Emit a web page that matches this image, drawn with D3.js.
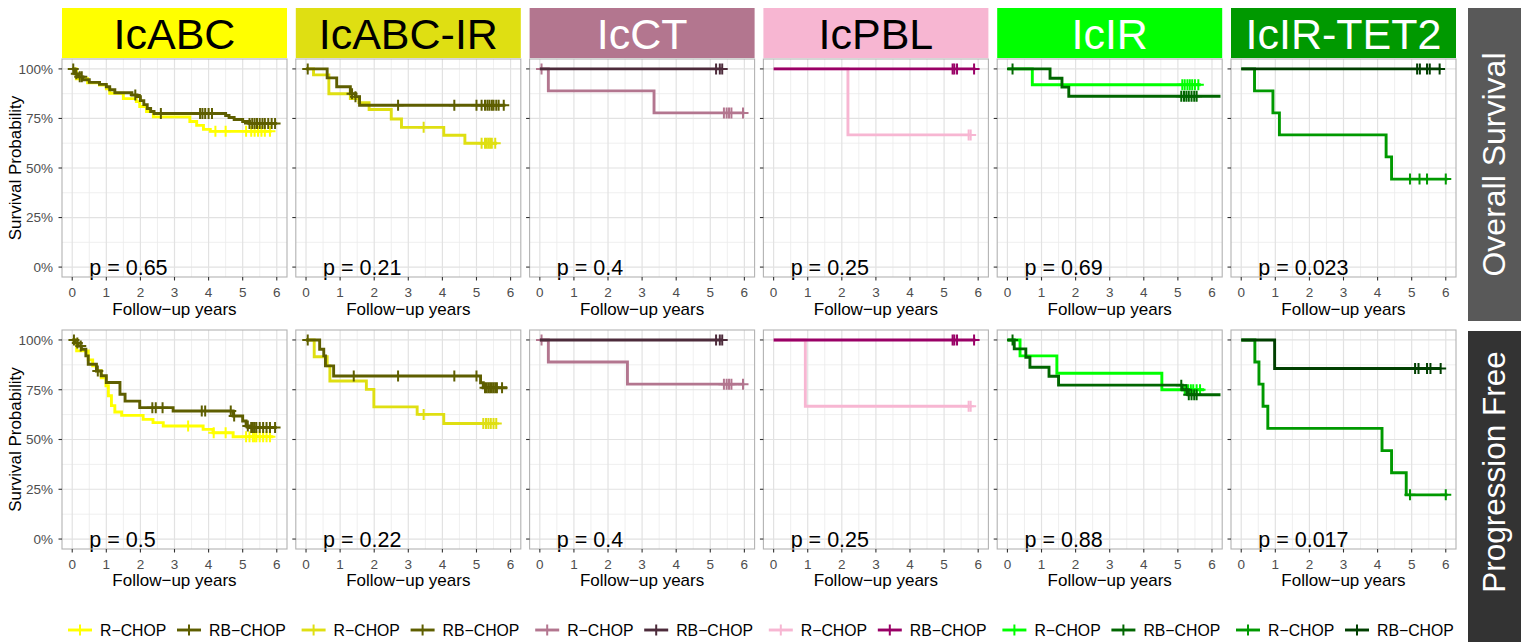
<!DOCTYPE html>
<html><head><meta charset="utf-8">
<script src="https://cdn.jsdelivr.net/npm/d3@7"></script>
<style>body{margin:0;background:#fff}svg{display:block}text{font-family:"Liberation Sans",Arial,sans-serif}</style>
</head><body><svg id="c" width="1521" height="642"></svg>
<script>
// ---------- data ----------
const groups = ["IcABC","IcABC-IR","IcCT","IcPBL","IcIR","IcIR-TET2"];
const treatments = ["R−CHOP","RB−CHOP"];
const rowLabels = ["Overall Survival","Progression Free"];
const pOS = ["0.65","0.21","0.4","0.25","0.69","0.023"];
const pPFS = ["0.5","0.22","0.4","0.25","0.88","0.017"];
const xTicks = [0,1,2,3,4,5,6];
const yTicks = [0,0.25,0.5,0.75,1];
const yTickLabels = ["0%","25%","50%","75%","100%"];
const stripFill = ["#FFFF00","#DFDF12","#B3768F","#F7B6D2","#00FF00","#009900"];
const stripText = ["#000","#000","#fff","#000","#fff","#fff"];
const colR  = ["#FFFF00","#DFDF12","#B3768F","#F7B6D2","#00FF00","#009900"];
const colRB = ["#5E5E00","#5E5E00","#4D2B3B","#990066","#006600","#003F00"];

// Overall survival: step points [time, survival] and censor times
const os_IcABC_R = [[0,1],[0.12,0.95],[0.45,0.93],[0.8,0.918],[1.0,0.9],[1.1,0.877],[1.5,0.85],[1.88,0.835],[1.98,0.81],[2.18,0.785],[2.38,0.758],[3.45,0.735],[3.65,0.715],[3.85,0.695],[4.05,0.685],[5.85,0.685]];
const os_IcABC_R_c = [4.2,4.5,5.1,5.25,5.35,5.45,5.55,5.65,5.8];
const os_IcABC_RB = [[0,1],[0.08,0.975],[0.18,0.96],[0.3,0.945],[0.5,0.932],[0.8,0.922],[1.0,0.91],[1.1,0.895],[1.25,0.88],[1.75,0.868],[1.9,0.86],[2.0,0.84],[2.1,0.82],[2.2,0.8],[2.3,0.785],[2.4,0.775],[4.5,0.765],[4.6,0.755],[4.75,0.745],[5.0,0.735],[5.2,0.725],[6.0,0.725]];
const os_IcABC_RB_c = [0.03,0.12,0.22,0.28,1.85,2.6,3.75,3.82,3.9,4.0,4.1,5.2,5.28,5.35,5.42,5.5,5.58,5.65,5.75,5.85,5.95];
const os_IcABCIR_R = [[0,1],[0.22,0.97],[0.67,0.875],[1.3,0.85],[1.55,0.83],[1.85,0.795],[2.5,0.747],[2.8,0.705],[4.04,0.665],[4.66,0.625],[5.6,0.625]];
const os_IcABCIR_R_c = [3.45,5.15,5.25,5.3,5.35,5.4,5.45,5.55];
const os_IcABCIR_RB = [[0,1],[0.62,0.955],[0.9,0.91],[1.3,0.875],[1.45,0.86],[1.57,0.817],[5.85,0.817]];
const os_IcABCIR_RB_c = [0.05,1.35,1.45,2.7,4.35,5.0,5.15,5.25,5.32,5.38,5.45,5.5,5.58,5.65,5.8];
const os_IcCT_R = [[0,1],[0.25,0.889],[3.35,0.778],[6.0,0.778]];
const os_IcCT_R_c = [0.05,5.4,5.48,5.55,5.62,5.96];
const os_IcCT_RB = [[0,1],[5.35,1]];
const os_IcCT_RB_c = [5.17,5.28,5.35];
const os_IcPBL_R = [[0,1],[2.18,0.667],[5.8,0.667]];
const os_IcPBL_R_c = [5.72,5.78];
const os_IcPBL_RB = [[0,1],[5.92,1]];
const os_IcPBL_RB_c = [5.25,5.3,5.38,5.88];
const os_IcIR_R = [[0,1],[0.73,0.92],[5.67,0.92]];
const os_IcIR_R_c = [5.13,5.2,5.28,5.35,5.42,5.5,5.6];
const os_IcIR_RB = [[0,1],[1.25,0.953],[1.6,0.908],[1.8,0.862],[6.25,0.862]];
const os_IcIR_RB_c = [0.15,5.1,5.18,5.25,5.32,5.4,5.48,5.55];
const os_IcIRTET2_R = [[0,1],[0.39,0.889],[0.93,0.778],[1.12,0.667],[4.25,0.556],[4.41,0.444],[6.05,0.444]];
const os_IcIRTET2_R_c = [4.95,5.23,5.45,6.0];
const os_IcIRTET2_RB = [[0,1],[5.85,1]];
const os_IcIRTET2_RB_c = [5.16,5.24,5.45,5.53,5.82];

// Progression free survival
const pfs_IcABC_R = [[0,1],[0.13,0.945],[0.47,0.9],[0.6,0.87],[0.71,0.845],[0.85,0.81],[0.99,0.77],[1.06,0.72],[1.15,0.67],[1.25,0.638],[1.45,0.621],[2.08,0.601],[2.37,0.585],[2.67,0.568],[3.84,0.551],[4.13,0.534],[4.72,0.514],[5.9,0.514]];
const pfs_IcABC_R_c = [3.4,4.15,4.5,5.1,5.2,5.3,5.35,5.4,5.5,5.6,5.7,5.8];
const pfs_IcABC_RB = [[0,1],[0.08,0.985],[0.17,0.97],[0.27,0.953],[0.4,0.92],[0.47,0.878],[0.71,0.844],[0.85,0.82],[1.0,0.786],[1.4,0.727],[1.55,0.693],[1.98,0.66],[2.96,0.643],[4.72,0.618],[5.0,0.593],[5.1,0.568],[5.2,0.56],[6.0,0.56]];
const pfs_IcABC_RB_c = [0.05,0.15,0.25,0.75,2.35,2.45,2.65,3.8,3.9,4.65,4.75,5.15,5.25,5.3,5.35,5.4,5.5,5.6,5.7,5.8,5.95];
const pfs_IcABCIR_R = [[0,1],[0.24,0.916],[0.62,0.87],[0.7,0.794],[1.77,0.752],[1.99,0.664],[3.26,0.626],[4.04,0.58],[5.6,0.58]];
const pfs_IcABCIR_R_c = [3.45,5.2,5.28,5.35,5.42,5.5,5.58];
const pfs_IcABCIR_RB = [[0,1],[0.4,0.953],[0.52,0.92],[0.57,0.87],[0.81,0.819],[5.12,0.785],[5.2,0.76],[5.9,0.76]];
const pfs_IcABCIR_RB_c = [0.05,1.4,2.7,4.35,5.0,5.25,5.3,5.35,5.4,5.45,5.5,5.55,5.6,5.75];
const pfs_IcCT_R = [[0,1],[0.25,0.889],[2.57,0.778],[6.0,0.778]];
const pfs_IcCT_R_c = [0.05,5.4,5.48,5.55,5.62,5.96];
const pfs_IcCT_RB = [[0,1],[5.35,1]];
const pfs_IcCT_RB_c = [5.17,5.28,5.35];
const pfs_IcPBL_R = [[0,1],[0.93,0.667],[5.8,0.667]];
const pfs_IcPBL_R_c = [5.72,5.78];
const pfs_IcPBL_RB = [[0,1],[5.92,1]];
const pfs_IcPBL_RB_c = [5.25,5.3,5.38,5.88];
const pfs_IcIR_R = [[0,1],[0.37,0.92],[1.45,0.833],[4.53,0.75],[5.77,0.75]];
const pfs_IcIR_R_c = [5.2,5.3,5.38,5.45,5.55,5.65];
const pfs_IcIR_RB = [[0,1],[0.2,0.955],[0.54,0.913],[0.66,0.863],[1.22,0.818],[1.5,0.773],[5.13,0.75],[5.3,0.725],[6.25,0.725]];
const pfs_IcIR_RB_c = [0.15,5.1,5.25,5.32,5.4,5.48,5.55];
const pfs_IcIRTET2_R = [[0,1],[0.4,0.889],[0.52,0.778],[0.64,0.667],[0.78,0.556],[4.13,0.444],[4.41,0.333],[4.84,0.222],[6.05,0.222]];
const pfs_IcIRTET2_R_c = [4.95,6.0];
const pfs_IcIRTET2_RB = [[0,1],[0.98,0.857],[5.85,0.857]];
const pfs_IcIRTET2_RB_c = [5.1,5.2,5.45,5.55,5.85];

const osCurves = [
  [os_IcABC_R,os_IcABC_R_c,os_IcABC_RB,os_IcABC_RB_c],
  [os_IcABCIR_R,os_IcABCIR_R_c,os_IcABCIR_RB,os_IcABCIR_RB_c],
  [os_IcCT_R,os_IcCT_R_c,os_IcCT_RB,os_IcCT_RB_c],
  [os_IcPBL_R,os_IcPBL_R_c,os_IcPBL_RB,os_IcPBL_RB_c],
  [os_IcIR_R,os_IcIR_R_c,os_IcIR_RB,os_IcIR_RB_c],
  [os_IcIRTET2_R,os_IcIRTET2_R_c,os_IcIRTET2_RB,os_IcIRTET2_RB_c]];
const pfsCurves = [
  [pfs_IcABC_R,pfs_IcABC_R_c,pfs_IcABC_RB,pfs_IcABC_RB_c],
  [pfs_IcABCIR_R,pfs_IcABCIR_R_c,pfs_IcABCIR_RB,pfs_IcABCIR_RB_c],
  [pfs_IcCT_R,pfs_IcCT_R_c,pfs_IcCT_RB,pfs_IcCT_RB_c],
  [pfs_IcPBL_R,pfs_IcPBL_R_c,pfs_IcPBL_RB,pfs_IcPBL_RB_c],
  [pfs_IcIR_R,pfs_IcIR_R_c,pfs_IcIR_RB,pfs_IcIR_RB_c],
  [pfs_IcIRTET2_R,pfs_IcIRTET2_R_c,pfs_IcIRTET2_RB,pfs_IcIRTET2_RB_c]];

// ---------- layout ----------
const svg = d3.select("#c");
const L0 = 62, PW = 225, STEP = 233.8;
const rowsBox = [{top:59,bottom:277},{top:330,bottom:549}];
const x = d3.scaleLinear().domain([-0.3,6.3]).range([0,PW]);
const xMinor = [0.5,1.5,2.5,3.5,4.5,5.5];
const yMinor = [0.125,0.375,0.625,0.875];

function survAt(curve,t){let s=curve[0][1];for(const p of curve){if(p[0]<=t+1e-9)s=p[1];}return s;}
const line = d3.line().curve(d3.curveStepAfter);

rowsBox.forEach((rb,ri)=>{
  const H = rb.bottom-rb.top;
  const y = d3.scaleLinear().domain([-0.05,1.05]).range([H,0]);
  const curves = ri===0?osCurves:pfsCurves;
  const pv = ri===0?pOS:pPFS;
  groups.forEach((g,gi)=>{
    const left = L0+gi*STEP;
    const G = svg.append("g").attr("transform",`translate(${left},${rb.top})`);
    G.append("rect").attr("width",PW).attr("height",H).attr("fill","#fff");
    G.selectAll(".vm").data(xMinor).join("line").attr("x1",d=>x(d)).attr("x2",d=>x(d)).attr("y1",0).attr("y2",H).attr("stroke","#EBEBEB").attr("stroke-width",0.8);
    G.selectAll(".hm").data(yMinor).join("line").attr("y1",d=>y(d)).attr("y2",d=>y(d)).attr("x1",0).attr("x2",PW).attr("stroke","#EBEBEB").attr("stroke-width",0.8);
    G.selectAll(".vM").data(xTicks).join("line").attr("x1",d=>x(d)).attr("x2",d=>x(d)).attr("y1",0).attr("y2",H).attr("stroke","#E2E2E2").attr("stroke-width",1.2);
    G.selectAll(".hM").data(yTicks).join("line").attr("y1",d=>y(d)).attr("y2",d=>y(d)).attr("x1",0).attr("x2",PW).attr("stroke","#E2E2E2").attr("stroke-width",1.2);
    const cid = `clip${ri}_${gi}`;
    G.append("clipPath").attr("id",cid).append("rect").attr("width",PW).attr("height",H);
    const P = G.append("g").attr("clip-path",`url(#${cid})`);
    const set = curves[gi];
    [[set[0],set[1],colR[gi]],[set[2],set[3],colRB[gi]]].forEach(([cv,cens,col])=>{
      line.x(d=>x(d[0])).y(d=>y(d[1]));
      P.append("path").attr("d",line(cv)).attr("fill","none").attr("stroke",col).attr("stroke-width",2.9);
      P.selectAll(null).data(cens).join("path")
        .attr("d",d=>{const cx=x(d),cy=y(survAt(cv,d));return `M${cx-5.5},${cy}H${cx+5.5}M${cx},${cy-5.5}V${cy+5.5}`;})
        .attr("stroke",col).attr("stroke-width",2).attr("fill","none");
    });
    G.append("text").attr("x",x(0.5)).attr("y",y(0)+8).attr("font-size",21.5).attr("fill","#000").text("p = "+pv[gi]);
    G.append("rect").attr("width",PW).attr("height",H).attr("fill","none").attr("stroke","#B3B3B3").attr("stroke-width",1.1);
    G.selectAll(".yt").data(yTicks).join("line").attr("x1",-3.5).attr("x2",0).attr("y1",d=>y(d)).attr("y2",d=>y(d)).attr("stroke","#333").attr("stroke-width",1.1);
    G.selectAll(".xt").data(xTicks).join("line").attr("x1",d=>x(d)).attr("x2",d=>x(d)).attr("y1",H).attr("y2",H+3.5).attr("stroke","#333").attr("stroke-width",1.1);
    G.selectAll(".xl").data(xTicks).join("text").attr("x",d=>x(d)).attr("y",H+20).attr("text-anchor","middle").attr("font-size",13.5).attr("fill","#4D4D4D").text(d=>d);
    G.append("text").attr("x",PW/2).attr("y",H+(ri===0?38:37)).attr("text-anchor","middle").attr("font-size",17).attr("fill","#000").text("Follow−up years");
    if(gi===0){
      G.selectAll(".yl").data(yTicks).join("text").attr("x",-9).attr("y",d=>y(d)+4.8).attr("text-anchor","end").attr("font-size",13.5).attr("fill","#4D4D4D").text((d,i)=>yTickLabels[i]);
      G.append("text").attr("transform",`translate(${20.5-left},${H/2}) rotate(-90)`).attr("text-anchor","middle").attr("font-size",17).attr("fill","#000").text("Survival Probability");
    }
    if(ri===0){
      svg.append("rect").attr("x",left).attr("y",8).attr("width",PW).attr("height",50).attr("fill",stripFill[gi]);
      svg.append("text").attr("x",left+PW/2).attr("y",49).attr("text-anchor","middle").attr("font-size",43).attr("fill",stripText[gi]).text(g);
    }
  });
});

const rowStrips = [{y0:8,y1:321,fill:"#595959",cy:164.5},{y0:331,y1:642,fill:"#333333",cy:472}];
rowStrips.forEach((s,i)=>{
  svg.append("rect").attr("x",1468).attr("y",s.y0).attr("width",53).attr("height",s.y1-s.y0).attr("fill",s.fill);
  svg.append("text").attr("transform",`translate(1505,${s.cy}) rotate(-90)`).attr("text-anchor","middle").attr("font-size",i===0?32:31.5).attr("fill","#fff").text(rowLabels[i]);
});

const LG = svg.append("g");
groups.forEach((g,gi)=>{
  [0,1].forEach(ti=>{
    const bx = 68+gi*233.6+ti*109;
    const col = ti===0?colR[gi]:colRB[gi];
    const cy = 630;
    LG.append("line").attr("x1",bx).attr("x2",bx+24).attr("y1",cy).attr("y2",cy).attr("stroke",col).attr("stroke-width",2.9);
    LG.append("path").attr("d",`M${bx+6.5},${cy}H${bx+17.5}M${bx+12},${cy-5.5}V${cy+5.5}`).attr("stroke",col).attr("stroke-width",2);
    LG.append("text").attr("x",bx+32).attr("y",cy+5.5).attr("font-size",15.8).attr("fill","#000").text(treatments[ti]);
  });
});
</script></body></html>
